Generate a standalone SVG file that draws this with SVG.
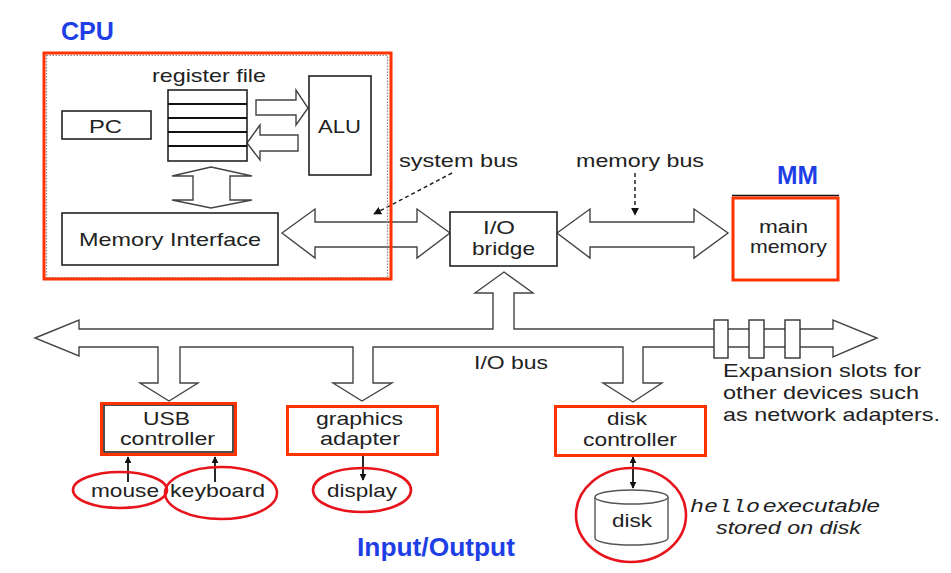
<svg xmlns="http://www.w3.org/2000/svg" width="951" height="573" viewBox="0 0 951 573">
<defs>
<style>
.t{font-family:"Liberation Sans",Arial,sans-serif;font-size:19px;fill:#222}
.title{font-family:"Liberation Sans",Arial,sans-serif;font-size:25px;font-weight:bold;fill:#1f3fe6}
.box{fill:#fff;stroke:#222;stroke-width:1.6}
.red{fill:none;stroke:#ff3300;stroke-width:3}
.ell{fill:none;stroke:#e8141c;stroke-width:2.6}
.arr{fill:#fff;stroke:#444;stroke-width:1.4;stroke-linejoin:miter}
.dash{fill:none;stroke:#222;stroke-width:1.5;stroke-dasharray:4 3}
.thin{fill:none;stroke:#111;stroke-width:1.8}
</style>
<marker id="ah" viewBox="0 0 10 10" refX="9" refY="5" markerWidth="7" markerHeight="7" orient="auto-start-reverse" markerUnits="userSpaceOnUse">
<path d="M0,0 L10,5 L0,10 z" fill="#111"/>
</marker>
<marker id="ahs" viewBox="0 0 10 10" refX="9" refY="5" markerWidth="8" markerHeight="8" orient="auto-start-reverse" markerUnits="userSpaceOnUse">
<path d="M0,0 L10,5 L0,10 z" fill="#111"/>
</marker>
</defs>
<rect width="951" height="573" fill="#fff"/>

<text class="title" x="61" y="40" textLength="53" lengthAdjust="spacingAndGlyphs">CPU</text>
<text class="title" x="357" y="556" textLength="158" lengthAdjust="spacingAndGlyphs">Input/Output</text>
<text class="title" x="777" y="184" textLength="41" lengthAdjust="spacingAndGlyphs">MM</text>

<g id="connectors">
<!-- system bus -->
<polygon class="arr" points="282,233 315,209 315,222 417,222 417,209 450,233 417,258 417,247 315,247 315,258"/>
<!-- memory bus -->
<polygon class="arr" points="557,233 590,209 590,222 694,222 694,209 728,233 694,258 694,247 590,247 590,258"/>
<!-- register to ALU -->
<polygon class="arr" points="256,100 296,100 296,90 308,108 296,125 296,115 256,115"/>
<!-- ALU to register -->
<polygon class="arr" points="298,135 260,135 260,125 247,143 260,160 260,151 298,151"/>
<!-- register file <-> memory interface -->
<polygon class="arr" points="211,167 252,176 230,176 230,200 252,200 211,208 172,200 193,200 193,176 172,176"/>
<!-- I/O bus -->
<polygon class="arr" points="35,338 79,320 79,329 493,329 493,293 475,293 504,272 533,293 514,293 514,329 833,329 833,320 877,338 833,357 833,347 643,347 643,383 662,383 633,402 603,383 623,383 623,347 373,347 373,383 392,383 362,401 333,383 353,383 353,347 180,347 180,383 198,383 169,401 140,383 158,383 158,347 79,347 79,356"/>
<!-- expansion slots -->
<rect class="box" x="714" y="320" width="14" height="38" style="stroke:#333;stroke-width:1.4"/>
<rect class="box" x="749" y="320" width="15" height="38" style="stroke:#333;stroke-width:1.4"/>
<rect class="box" x="785" y="320" width="15" height="38" style="stroke:#333;stroke-width:1.4"/>
<!-- dashed pointers -->
<line class="dash" x1="452" y1="173" x2="374" y2="214" marker-end="url(#ahs)"/>
<line class="dash" x1="635" y1="173" x2="635" y2="215" marker-end="url(#ahs)"/>
<!-- small device arrows -->
<line class="thin" x1="128" y1="482" x2="128" y2="457" marker-end="url(#ah)"/>
<line class="thin" x1="215" y1="482" x2="215" y2="457" marker-end="url(#ah)"/>
<line class="thin" x1="363" y1="455" x2="363" y2="480" marker-end="url(#ah)"/>
<line class="thin" x1="633" y1="457" x2="633" y2="488" marker-start="url(#ah)" marker-end="url(#ah)"/>
</g>

<g id="cpu">
<rect x="46.5" y="55.5" width="341" height="222" fill="none" stroke="#888" stroke-width="1.2" stroke-dasharray="1.5 1.5"/>
<rect class="red" x="44" y="53" width="347" height="226"/>
</g>

<g id="register-file">
<text class="t" x="152" y="82" textLength="114" lengthAdjust="spacingAndGlyphs">register file</text>
<rect class="box" x="168" y="90" width="79" height="71"/>
<g stroke="#111" stroke-width="2.2">
<line x1="168" y1="104" x2="247" y2="104"/>
<line x1="168" y1="118" x2="247" y2="118"/>
<line x1="168" y1="132" x2="247" y2="132"/>
<line x1="168" y1="146" x2="247" y2="146"/>
</g>
</g>

<g id="pc">
<rect class="box" x="62" y="111" width="89" height="28"/>
<text class="t" x="89" y="133" textLength="33" lengthAdjust="spacingAndGlyphs">PC</text>
</g>

<g id="alu">
<rect class="box" x="309" y="76" width="62" height="99"/>
<text class="t" x="318" y="133" textLength="43" lengthAdjust="spacingAndGlyphs">ALU</text>
</g>

<g id="memory-interface">
<rect class="box" x="62" y="213" width="216" height="52"/>
<text class="t" x="79" y="246" textLength="182" lengthAdjust="spacingAndGlyphs">Memory Interface</text>
</g>

<g id="system-bus-label">
<text class="t" x="399" y="167" textLength="119" lengthAdjust="spacingAndGlyphs">system bus</text>
</g>

<g id="memory-bus-label">
<text class="t" x="576" y="167" textLength="128" lengthAdjust="spacingAndGlyphs">memory bus</text>
</g>

<g id="io-bridge">
<rect class="box" x="450" y="212" width="107" height="54"/>
<text class="t" x="483" y="234" textLength="32" lengthAdjust="spacingAndGlyphs">I/O</text>
<text class="t" x="472" y="255" textLength="63" lengthAdjust="spacingAndGlyphs">bridge</text>
</g>

<g id="main-memory">
<line x1="732" y1="195.5" x2="839" y2="195.5" stroke="#111" stroke-width="1.5"/>
<rect x="733" y="198" width="105" height="82" fill="#fff" stroke="#ff3300" stroke-width="3"/>
<text class="t" x="759" y="233" textLength="49" lengthAdjust="spacingAndGlyphs">main</text>
<text class="t" x="750" y="253" textLength="77" lengthAdjust="spacingAndGlyphs">memory</text>
</g>

<g id="io-bus-label">
<text class="t" x="474" y="369" textLength="74" lengthAdjust="spacingAndGlyphs">I/O bus</text>
</g>

<g id="expansion-label">
<text class="t" x="723" y="377" textLength="198" lengthAdjust="spacingAndGlyphs">Expansion slots for</text>
<text class="t" x="723" y="399" textLength="196" lengthAdjust="spacingAndGlyphs">other devices such</text>
<text class="t" x="723" y="421" textLength="217" lengthAdjust="spacingAndGlyphs">as network adapters.</text>
</g>

<g id="usb-controller">
<rect class="box" x="104" y="405" width="129" height="47"/>
<rect class="red" x="101.5" y="403.5" width="134" height="51"/>
<text class="t" x="143" y="425" textLength="47" lengthAdjust="spacingAndGlyphs">USB</text>
<text class="t" x="120" y="445" textLength="95" lengthAdjust="spacingAndGlyphs">controller</text>
</g>

<g id="graphics-adapter">
<rect x="287.5" y="406.5" width="150" height="48" fill="#fff" stroke="#ff3300" stroke-width="3"/>
<text class="t" x="316" y="425" textLength="87" lengthAdjust="spacingAndGlyphs">graphics</text>
<text class="t" x="320" y="445" textLength="80" lengthAdjust="spacingAndGlyphs">adapter</text>
</g>

<g id="disk-controller">
<line x1="555.5" y1="406" x2="555.5" y2="455" stroke="#111" stroke-width="1.5"/>
<rect class="red" x="555.5" y="406.5" width="150" height="49"/>
<text class="t" x="607" y="425" textLength="40" lengthAdjust="spacingAndGlyphs">disk</text>
<text class="t" x="583" y="446" textLength="94" lengthAdjust="spacingAndGlyphs">controller</text>
</g>

<g id="mouse">
<ellipse class="ell" cx="120" cy="490" rx="47" ry="18"/>
<text class="t" x="91" y="497" textLength="68" lengthAdjust="spacingAndGlyphs">mouse</text>
</g>

<g id="keyboard">
<ellipse class="ell" cx="221" cy="493" rx="56" ry="26"/>
<text class="t" x="170" y="497" textLength="95" lengthAdjust="spacingAndGlyphs">keyboard</text>
</g>

<g id="display">
<ellipse class="ell" cx="362" cy="490" rx="49" ry="22"/>
<text class="t" x="327" y="497" textLength="70" lengthAdjust="spacingAndGlyphs">display</text>
</g>

<g id="disk">
<ellipse class="ell" cx="631" cy="515" rx="55" ry="47"/>
<path d="M595,497 L595,538 A36.5,7 0 0 0 668,538 L668,497" fill="#fff" stroke="#555" stroke-width="1.4"/>
<ellipse cx="631.5" cy="497" rx="36.5" ry="7" fill="#fff" stroke="#555" stroke-width="1.4"/>
<text class="t" x="612" y="527" textLength="40" lengthAdjust="spacingAndGlyphs">disk</text>
</g>

<g id="disk-note">
<text x="690" y="512" textLength="70" lengthAdjust="spacingAndGlyphs" style="font-family:'Liberation Mono',monospace;font-style:italic;font-size:18px;fill:#222">hello</text>
<text class="t" x="763" y="512" textLength="117" lengthAdjust="spacingAndGlyphs" style="font-style:italic">executable</text>
<text class="t" x="716" y="534" textLength="145" lengthAdjust="spacingAndGlyphs" style="font-style:italic">stored on disk</text>
</g>
</svg>
